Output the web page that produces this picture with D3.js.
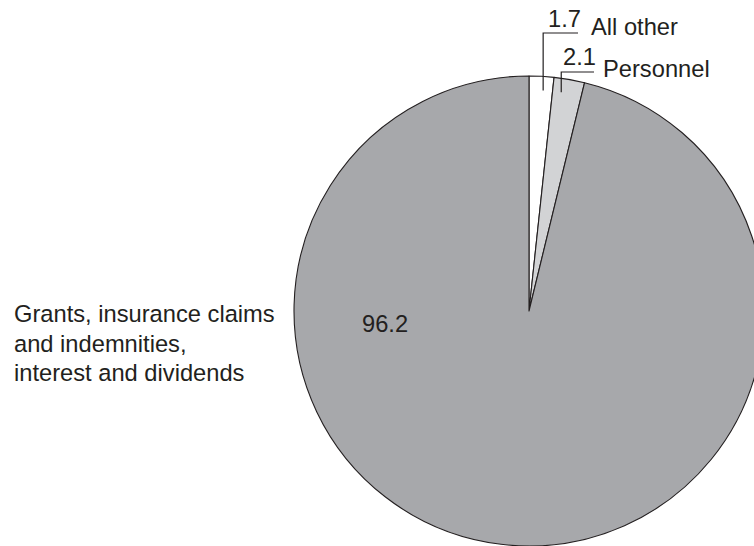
<!DOCTYPE html>
<html><head><meta charset="utf-8">
<script src="https://cdn.jsdelivr.net/npm/d3@7"></script>
<style>
html,body{margin:0;padding:0;background:#fff;}
svg{display:block;}
text{font-family:"Liberation Sans",Arial,Helvetica,sans-serif;fill:#231f20;}
</style></head>
<body>
<svg id="chart" width="754" height="546"></svg>
<script>
const categories = ["All other", "Personnel", "Grants, insurance claims and indemnities, interest and dividends"];
const values = [1.7, 2.1, 96.2];
const valueLabels = ["1.7", "2.1", "96.2"];
const colors = ["#ffffff", "#d2d3d5", "#a7a8ab"];

const svg = d3.select("#chart");
const cx = 529, cy = 311, R = 235;
const g = svg.append("g").attr("transform", `translate(${cx},${cy})`);

const data = categories.map((c, i) => ({cat: c, value: values[i], label: valueLabels[i], color: colors[i]}));
const pie = d3.pie().value(d => d.value).sort(null);
const arcs = pie(data);
const arc = d3.arc().innerRadius(0).outerRadius(R);

g.selectAll("path.slice").data(arcs).enter().append("path")
  .attr("class", "slice")
  .attr("d", arc)
  .attr("fill", d => d.data.color)
  .attr("stroke", "#231f20")
  .attr("stroke-width", 1.1)
  .attr("stroke-linejoin", "round");

const fs = 23.7;
function pt(a, f, r) {
  const ang = a.startAngle + (a.endAngle - a.startAngle) * f;
  return [r * Math.sin(ang), -r * Math.cos(ang)];
}

const small = [
  {a: arcs[0], f: 0.6, yLine: 33, xEnd: 578, numX: 548, numY: 27, nameX: 591, nameY: 35},
  {a: arcs[1], f: 0.3, yLine: 72, xEnd: 594, numX: 563, numY: 65, nameX: 603, nameY: 77}
];
small.forEach(s => {
  const p = pt(s.a, s.f, 221);
  const x0 = cx + p[0], y0 = cy + p[1];
  svg.append("path")
    .attr("d", `M${x0},${y0}V${s.yLine}H${s.xEnd}`)
    .attr("fill", "none").attr("stroke", "#231f20").attr("stroke-width", 1.2);
  svg.append("text").attr("x", s.numX).attr("y", s.numY).attr("font-size", fs).text(s.a.data.label);
  svg.append("text").attr("x", s.nameX).attr("y", s.nameY).attr("font-size", fs).text(s.a.data.cat);
});

svg.append("text").attr("x", 362).attr("y", 332).attr("font-size", fs).text(arcs[2].data.label);
const lines = ["Grants, insurance claims", "and indemnities,", "interest and dividends"];
const t = svg.append("text").attr("x", 14).attr("y", 322).attr("font-size", fs);
lines.forEach((l, i) => t.append("tspan").attr("x", 14).attr("y", 322 + i * 29.5).text(l));
</script>
</body></html>
